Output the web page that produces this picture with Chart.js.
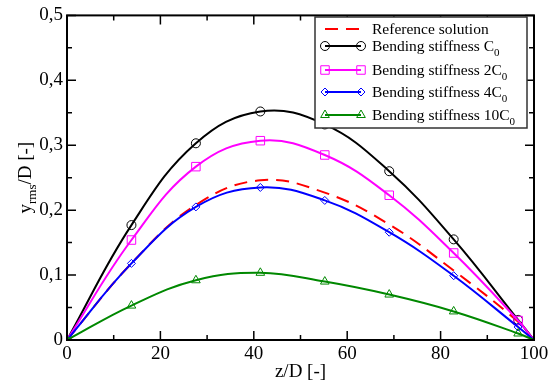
<!DOCTYPE html>
<html>
<head>
<meta charset="utf-8">
<script src="https://cdn.jsdelivr.net/npm/chart.js"></script>
<style>
  html, body { margin: 0; padding: 0; background: #fff; }
  #plot { display: block; }
</style>
</head>
<body>
<canvas id="plot" width="557" height="388"></canvas>
<script>
// positions along the pile, z/D
const zPos = [0, 13.8, 27.6, 41.4, 55.2, 69, 82.8, 96.6, 100];
// y_rms/D for each case
const refSol    = [0, 0.118, 0.208, 0.246, 0.227, 0.178, 0.107, 0.028, 0];
const stiffC0   = [0, 0.177, 0.303, 0.352, 0.332, 0.260, 0.155, 0.031, 0];
const stiff2C0  = [0, 0.154, 0.267, 0.307, 0.285, 0.223, 0.134, 0.030, 0];
const stiff4C0  = [0, 0.118, 0.205, 0.235, 0.215, 0.166, 0.099, 0.020, 0];
const stiff10C0 = [0, 0.053, 0.092, 0.1035, 0.090, 0.070, 0.044, 0.010, 0];

const xTicks = [0, 20, 40, 60, 80, 100];
const yTicks = [0, 0.1, 0.2, 0.3, 0.4, 0.5];

const serif = "'Liberation Serif', 'DejaVu Serif', serif";

function pts(vals) {
  return vals.map((v, i) => ({ x: zPos[i], y: v }));
}
// markers everywhere except at the tip (z/D = 100)
const markR = r => zPos.map((z, i) => (i === zPos.length - 1 ? 0 : r));

const series = [
  { label: 'Reference solution', sub: '', data: refSol, color: '#ff0000', dash: [13, 8], style: false, r: 0 },
  { label: 'Bending stiffness C', sub: '0', data: stiffC0, color: '#000000', dash: [], style: 'circle', r: 4.5 },
  { label: 'Bending stiffness 2C', sub: '0', data: stiff2C0, color: '#ff00ff', dash: [], style: 'rect', r: 6 },
  { label: 'Bending stiffness 4C', sub: '0', data: stiff4C0, color: '#0000ff', dash: [], style: 'rectRot', r: 4 },
  { label: 'Bending stiffness 10C', sub: '0', data: stiff10C0, color: '#008800', dash: [], style: 'triangle', r: 5 }
];

function drawMark(ctx, s, x, y) {
  if (!s.style) return;
  ctx.save();
  ctx.strokeStyle = s.color;
  ctx.fillStyle = 'rgba(0,0,0,0)';
  ctx.lineWidth = 1;
  ctx.setLineDash([]);
  Chart.helpers.drawPoint(ctx, { pointStyle: s.style, radius: s.r, rotation: 0, borderWidth: 1 }, x, y);
  ctx.restore();
}

const decor = {
  id: 'decor',
  afterDatasetsDraw(chart) {
    const ctx = chart.ctx;
    const a = chart.chartArea;
    const xs = chart.scales.x, ys = chart.scales.y;
    ctx.save();
    ctx.strokeStyle = '#000';
    ctx.lineWidth = 1.5;
    ctx.setLineDash([]);
    // inward ticks on all four sides
    for (let v = 0; v <= 100; v += 10) {
      const px = xs.getPixelForValue(v);
      const len = v % 20 === 0 ? 9 : 5;
      ctx.beginPath();
      ctx.moveTo(px, a.bottom); ctx.lineTo(px, a.bottom - len);
      ctx.moveTo(px, a.top); ctx.lineTo(px, a.top + len);
      ctx.stroke();
    }
    for (let k = 0; k <= 10; k++) {
      const py = ys.getPixelForValue(k * 0.05);
      const len = k % 2 === 0 ? 9 : 5;
      ctx.beginPath();
      ctx.moveTo(a.left, py); ctx.lineTo(a.left + len, py);
      ctx.moveTo(a.right, py); ctx.lineTo(a.right - len, py);
      ctx.stroke();
    }
    ctx.lineWidth = 2;
    ctx.strokeRect(a.left, a.top, a.right - a.left, a.bottom - a.top);

    // legend box
    const bx = 315, by = 17, bw = 212, bh = 111;
    ctx.fillStyle = '#fff';
    ctx.fillRect(bx, by, bw, bh);
    ctx.lineWidth = 1.5;
    ctx.strokeStyle = '#333';
    ctx.strokeRect(bx, by, bw, bh);
    const rowY = [29, 46, 70, 92, 115];
    series.forEach((s, i) => {
      const y = rowY[i];
      ctx.strokeStyle = s.color;
      ctx.lineWidth = 2;
      ctx.setLineDash(s.dash);
      ctx.beginPath();
      ctx.moveTo(325, y); ctx.lineTo(361, y);
      ctx.stroke();
      ctx.setLineDash([]);
      drawMark(ctx, s, 325, y);
      drawMark(ctx, s, 361, y);
      ctx.fillStyle = '#000';
      ctx.font = '15.5px ' + serif;
      ctx.textBaseline = 'alphabetic';
      ctx.textAlign = 'left';
      const base = y + 5;
      ctx.fillText(s.label, 372, base);
      if (s.sub) {
        const w = ctx.measureText(s.label).width;
        ctx.font = '11px ' + serif;
        ctx.fillText(s.sub, 372 + w, base + 5);
      }
    });

    // axis titles
    ctx.fillStyle = '#000';
    ctx.font = '19px ' + serif;
    ctx.textAlign = 'center';
    ctx.textBaseline = 'alphabetic';
    ctx.fillText('z/D [-]', (a.left + a.right) / 2, 377);

    ctx.translate(31, (a.top + a.bottom) / 2);
    ctx.rotate(-Math.PI / 2);
    ctx.font = '19px ' + serif;
    const wY = ctx.measureText('y').width;
    const wRest = ctx.measureText('/D [-]').width;
    ctx.font = '13px ' + serif;
    const wSub = ctx.measureText('rms').width;
    let x0 = -(wY + wSub + wRest) / 2;
    ctx.textAlign = 'left';
    ctx.font = '19px ' + serif;
    ctx.fillText('y', x0, 0);
    ctx.font = '13px ' + serif;
    ctx.fillText('rms', x0 + wY, 5);
    ctx.font = '19px ' + serif;
    ctx.fillText('/D [-]', x0 + wY + wSub, 0);
    ctx.restore();
  }
};

new Chart(document.getElementById('plot'), {
  type: 'line',
  data: {
    datasets: series.map(s => ({
      label: s.label + s.sub,
      data: pts(s.data),
      borderColor: s.color,
      borderWidth: 2,
      borderDash: s.dash,
      tension: 0.4,
      fill: false,
      pointStyle: s.style || 'circle',
      pointRadius: s.style ? markR(s.r) : 0,
      pointBorderWidth: 1,
      pointBorderColor: s.color,
      pointBackgroundColor: 'rgba(0,0,0,0)'
    })).reverse()
  },
  options: {
    responsive: false,
    animation: false,
    devicePixelRatio: 1,
    layout: { padding: { top: 13, right: 23, left: 0, bottom: 0 } },
    plugins: { legend: { display: false }, tooltip: { enabled: false } },
    scales: {
      x: {
        type: 'linear',
        min: 0, max: 100,
        afterBuildTicks: s => { s.ticks = xTicks.map(v => ({ value: v })); },
        afterFit: s => { s.height = 48; },
        grid: { display: false, drawTicks: false },
        border: { display: false },
        ticks: { color: '#000', font: { family: serif, size: 19 }, padding: 3, maxRotation: 0 }
      },
      y: {
        min: 0, max: 0.5,
        afterBuildTicks: s => { s.ticks = yTicks.map(v => ({ value: v })); },
        afterFit: s => { s.width = 67; },
        grid: { display: false, drawTicks: false },
        border: { display: false },
        ticks: {
          color: '#000', font: { family: serif, size: 19 }, padding: 4,
          callback: v => (v === 0 ? '0' : v.toFixed(1).replace('.', ','))
        }
      }
    }
  },
  plugins: [decor]
});
</script>
</body>
</html>
